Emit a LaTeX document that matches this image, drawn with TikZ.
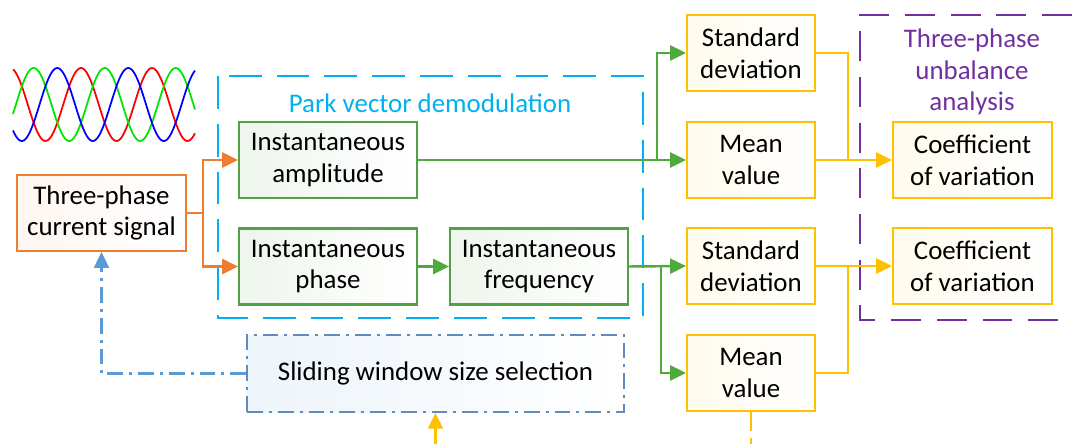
\documentclass[tikz,border=0pt]{standalone}
\usepackage{fontspec}
\setmainfont{Carlito}
\usetikzlibrary{arrows.meta}
\definecolor{sigorange}{RGB}{237,125,49}
\definecolor{pgreen}{RGB}{77,170,59}
\definecolor{boxgreen}{RGB}{84,160,70}
\definecolor{statyellow}{RGB}{255,192,0}
\definecolor{parkblue}{RGB}{0,176,240}
\definecolor{unbpurple}{RGB}{112,48,160}
\definecolor{winblue}{RGB}{91,155,213}
\definecolor{winedge}{RGB}{95,140,190}
\begin{document}
\begin{tikzpicture}[x=0.02cm,y=-0.02cm,>={Triangle[length=9pt,width=8.5pt]}]
        \tikzstyle{txt}=[font=\fontsize{15.3}{18}\selectfont,align=center]
        \tikzstyle{sigbox}=[txt,draw=sigorange,line width=1.2pt,left color=sigorange!7,right color=white,minimum width=3.38cm,minimum height=1.52cm]
        \tikzstyle{parkbox}=[txt,draw=boxgreen,line width=1.2pt,left color=boxgreen!10,right color=white,minimum width=3.56cm,minimum height=1.52cm]
        \tikzstyle{statbox}=[txt,draw=statyellow,line width=1.2pt,left color=statyellow!7,right color=white,minimum width=2.56cm,minimum height=1.52cm]
        \tikzstyle{cvbox}=[statbox,minimum width=3.18cm]
        \tikzstyle{winbox}=[txt,draw=winedge,line width=1pt,dash pattern=on 9pt off 3.4pt on 1.7pt off 3.4pt,left color=winblue!11,right color=white,minimum width=7.54cm,minimum height=1.54cm]
        \tikzstyle{oedge}=[draw=sigorange,line width=1.4pt]
        \tikzstyle{gedge}=[draw=pgreen,line width=1.4pt]
        \tikzstyle{yedge}=[draw=statyellow,line width=1.4pt]
        \tikzstyle{wave}=[line width=1pt]

        \useasboundingbox (0,0) rectangle (1072,444);

        % three-phase waveform
        \draw[wave,red] plot[domain=13:195,samples=120] (\x,{104.5-36.5*cos((\x-10)/71*360)});
        \draw[wave,green!90!black] plot[domain=13:195,samples=120] (\x,{104.5-36.5*cos((\x-33.7)/71*360)});
        \draw[wave,blue] plot[domain=13:195,samples=120] (\x,{104.5-36.5*cos((\x-57.3)/71*360)});

        % group frames
        \draw[parkblue,line width=1.2pt,dash pattern=on 18.7pt off 8.5pt] (218,76) rectangle (643,318);
        \node [txt,text=parkblue] (parklbl) at (430,103) {Park vector demodulation};
        \draw[unbpurple,line width=1.2pt,dash pattern=on 17pt off 9pt] (1072,15) -- (860,15) -- (860,320) -- (1072,320);
        \node [txt,text=unbpurple] (unblbl) at (972,72) {Three-phase\\unbalance\\analysis};

        % boxes
        \node [sigbox] (sig) at (101.5,213) {Three-phase\\current signal};
        \node [parkbox] (amp) at (328,160) {Instantaneous\\amplitude};
        \node [parkbox] (pha) at (328,266.5) {Instantaneous\\phase};
        \node [parkbox] (frq) at (539,266.5) {Instantaneous\\frequency};
        \node [statbox] (sd1) at (751,53) {Standard\\deviation};
        \node [statbox] (mv1) at (751,160) {Mean\\value};
        \node [statbox] (sd2) at (751,266) {Standard\\deviation};
        \node [statbox] (mv2) at (751,373) {Mean\\value};
        \node [cvbox] (cv1) at (972.5,160) {Coefficient\\of variation};
        \node [cvbox] (cv2) at (972.5,266) {Coefficient\\of variation};
        \node [winbox] (win) at (435.5,373.5) {Sliding window size selection};

        \coordinate (o1) at (203,213);
        \coordinate (b1) at (657,160);
        \coordinate (b2) at (661,266.5);
        \coordinate (j1) at (848,160);
        \coordinate (j2) at (848,266);
        \coordinate (yin) at (435.5,444);
        \coordinate (yout) at (751,444);

        % signal to demodulation
        \draw[oedge] (sig.east) -- (o1);
        \draw[oedge,->] (o1) |- (amp.west);
        \draw[oedge,->] (o1) |- (pha.west);

        % demodulation to statistics
        \draw[gedge,->] (pha) -- (frq);
        \draw[gedge,->] (amp.east) -- (mv1.west);
        \draw[gedge,->] (b1) |- (sd1.west);
        \draw[gedge,->] (frq.east) -- (sd2.west);
        \draw[gedge,->] (b2) |- (mv2.west);

        % statistics to coefficient of variation
        \draw[yedge] (sd1.east) -| (j1);
        \draw[yedge,->] (mv1.east) -- (cv1.west);
        \draw[yedge] (mv2.east) -| (j2);
        \draw[yedge,->] (sd2.east) -- (cv2.west);
        \draw[yedge,dash pattern=on 11pt off 4pt] (mv2.south) -- (yout);
        \draw[yedge,->] (yin) -- (win.south);

        % window feedback
        \draw[draw=winblue,line width=1.3pt,dash pattern=on 9pt off 3.4pt on 1.7pt off 3.4pt,->] (win.west) -| (sig.south);
\end{tikzpicture}
\end{document}
